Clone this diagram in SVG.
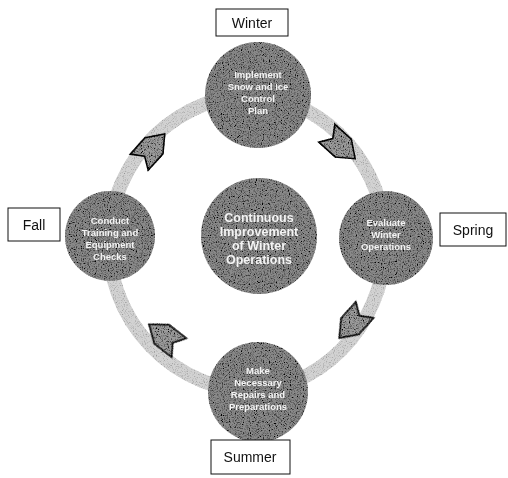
<svg xmlns="http://www.w3.org/2000/svg" width="508" height="478" viewBox="0 0 508 478">
  <defs>
    <filter id="grain" x="-5%" y="-5%" width="110%" height="110%">
      <feTurbulence type="fractalNoise" baseFrequency="0.85" numOctaves="2" seed="4" result="n"/>
      <feColorMatrix in="n" type="matrix" values="0 0 0 0 0  0 0 0 0 0  0 0 0 0 0  3.2 0 0 0 -1.45" result="dots"/>
      <feComposite in="dots" in2="SourceGraphic" operator="in" result="d2"/>
      <feMerge><feMergeNode in="SourceGraphic"/><feMergeNode in="d2"/></feMerge>
    </filter>
    <filter id="grainLight" x="-5%" y="-5%" width="110%" height="110%">
      <feTurbulence type="fractalNoise" baseFrequency="0.9" numOctaves="2" seed="9" result="n"/>
      <feColorMatrix in="n" type="matrix" values="0 0 0 0 0.3  0 0 0 0 0.3  0 0 0 0 0.3  3 0 0 0 -1.55" result="dots"/>
      <feComposite in="dots" in2="SourceGraphic" operator="in" result="d2"/>
      <feMerge><feMergeNode in="SourceGraphic"/><feMergeNode in="d2"/></feMerge>
    </filter>
    <polygon id="blockArrow" points="-19,-12 3,-12 19,0 3,12 -19,12 -11,0"/>
  </defs>
  <style>
    .label { fill: #ffffff; stroke: #111111; stroke-width: 1; }
    .labelText { font-family: "Liberation Sans", Arial, sans-serif; font-size: 14px; fill: #111111; text-anchor: middle; }
    .bubble { fill: #8a8a8a; }
    .bubbleText { font-family: "Liberation Sans Narrow", "Liberation Sans", Arial, sans-serif; font-weight: bold; fill: #f4f4f4; text-anchor: middle; }
    .small { font-size: 9.5px; }
    .big { font-size: 12.5px; }
    .ring { fill: none; stroke: #d2d2d2; stroke-width: 14; }
    .arrow { fill: #9c9c9c; stroke: #111111; stroke-width: 1.6; stroke-linejoin: miter; }
  </style>
  <rect width="508" height="478" fill="#ffffff"/>

  <g id="connectors">
    <g filter="url(#grainLight)">
      <path class="ring" d="M109,236 A150,150 0 0 1 258,94"/>
      <path class="ring" d="M258,94 A150,150 0 0 1 385,238"/>
      <path class="ring" d="M385,238 A150,150 0 0 1 258,392"/>
      <path class="ring" d="M258,392 A150,150 0 0 1 109,236"/>
    </g>
    <g filter="url(#grain)">
      <use href="#blockArrow" class="arrow" transform="translate(152,148) rotate(-48)"/>
      <use href="#blockArrow" class="arrow" transform="translate(341,146) rotate(42)"/>
      <use href="#blockArrow" class="arrow" transform="translate(352,324) rotate(132)"/>
      <use href="#blockArrow" class="arrow" transform="translate(164,336) rotate(-142)"/>
    </g>
  </g>

  <g id="center">
    <circle class="bubble" cx="259" cy="236" r="58" filter="url(#grain)"/>
    <text class="bubbleText big" x="259" y="222">Continuous</text>
    <text class="bubbleText big" x="259" y="236">Improvement</text>
    <text class="bubbleText big" x="259" y="250">of Winter</text>
    <text class="bubbleText big" x="259" y="264">Operations</text>
  </g>

  <g id="winter">
    <circle class="bubble" cx="258" cy="95" r="53" filter="url(#grain)"/>
    <text class="bubbleText small" x="258" y="78">Implement</text>
    <text class="bubbleText small" x="258" y="90">Snow and Ice</text>
    <text class="bubbleText small" x="258" y="102">Control</text>
    <text class="bubbleText small" x="258" y="114">Plan</text>
    <rect class="label" x="216" y="9" width="72" height="27"/>
    <text class="labelText" x="252" y="28">Winter</text>
  </g>

  <g id="spring">
    <circle class="bubble" cx="386" cy="238" r="47" filter="url(#grain)"/>
    <text class="bubbleText small" x="386" y="226">Evaluate</text>
    <text class="bubbleText small" x="386" y="238">Winter</text>
    <text class="bubbleText small" x="386" y="250">Operations</text>
    <rect class="label" x="440" y="213" width="66" height="33"/>
    <text class="labelText" x="473" y="235">Spring</text>
  </g>

  <g id="summer">
    <circle class="bubble" cx="258" cy="392" r="50" filter="url(#grain)"/>
    <text class="bubbleText small" x="258" y="374">Make</text>
    <text class="bubbleText small" x="258" y="386">Necessary</text>
    <text class="bubbleText small" x="258" y="398">Repairs and</text>
    <text class="bubbleText small" x="258" y="410">Preparations</text>
    <rect class="label" x="211" y="440" width="79" height="34"/>
    <text class="labelText" x="250" y="462">Summer</text>
  </g>

  <g id="fall">
    <circle class="bubble" cx="110" cy="236" r="45" filter="url(#grain)"/>
    <text class="bubbleText small" x="110" y="224">Conduct</text>
    <text class="bubbleText small" x="110" y="236">Training and</text>
    <text class="bubbleText small" x="110" y="248">Equipment</text>
    <text class="bubbleText small" x="110" y="260">Checks</text>
    <rect class="label" x="8" y="208" width="52" height="33"/>
    <text class="labelText" x="34" y="230">Fall</text>
  </g>
</svg>
